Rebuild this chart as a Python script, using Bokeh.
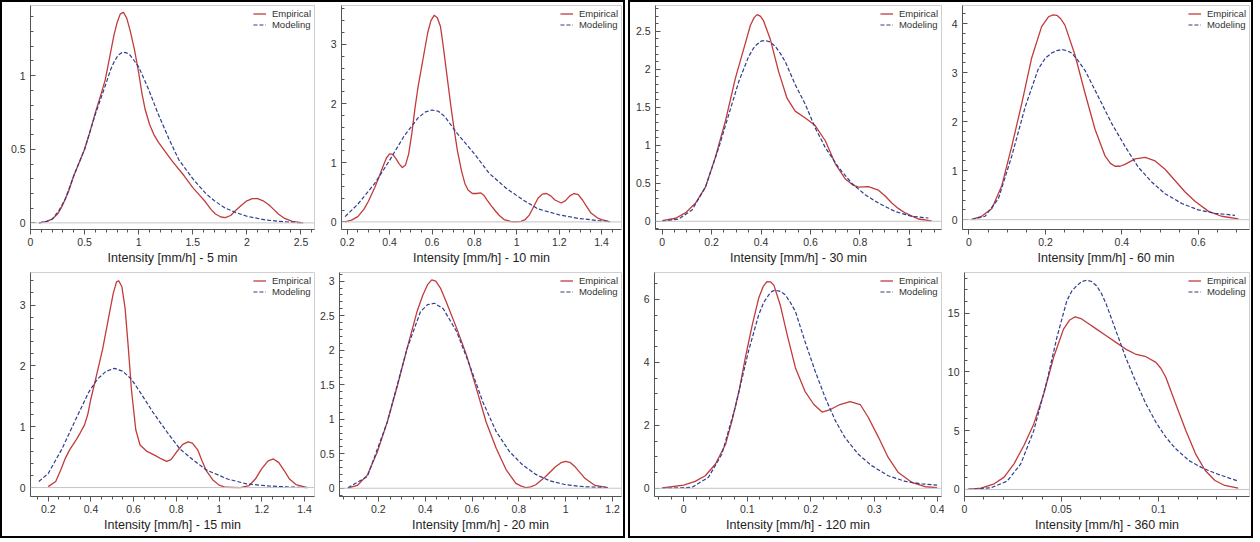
from bokeh.plotting import figure
from bokeh.layouts import row, column
from bokeh.models import FixedTicker, Span, CustomJSTickFormatter
from bokeh.embed import file_html
from bokeh.resources import INLINE
import numpy as np

# ---------------- data ----------------
titles = ["Intensity [mm/h] - 5 min", "Intensity [mm/h] - 10 min",
          "Intensity [mm/h] - 15 min", "Intensity [mm/h] - 20 min",
          "Intensity [mm/h] - 30 min", "Intensity [mm/h] - 60 min",
          "Intensity [mm/h] - 120 min", "Intensity [mm/h] - 360 min"]
series_names = ["Empirical", "Modeling"]

# 5 min
emp5_x = [0.08, 0.15, 0.2, 0.25, 0.29, 0.35, 0.4, 0.45, 0.5, 0.55, 0.6, 0.65, 0.69, 0.73, 0.77,
          0.8, 0.83, 0.86, 0.89, 0.92, 0.96, 1.0, 1.03, 1.06, 1.1, 1.14, 1.18, 1.22, 1.31, 1.42,
          1.5, 1.56, 1.62, 1.67, 1.71, 1.76, 1.8, 1.85, 1.89, 1.95, 2.0, 2.05, 2.1, 2.15, 2.2,
          2.25, 2.29, 2.35, 2.42, 2.52]
emp5_y = [0.0, 0.01, 0.025, 0.06, 0.11, 0.21, 0.32, 0.41, 0.5, 0.62, 0.75, 0.87, 0.97, 1.12,
          1.27, 1.36, 1.42, 1.43, 1.39, 1.31, 1.18, 1.02, 0.88, 0.77, 0.67, 0.6, 0.55, 0.51,
          0.42, 0.32, 0.24, 0.19, 0.14, 0.09, 0.06, 0.04, 0.035, 0.05, 0.08, 0.12, 0.15,
          0.165, 0.165, 0.15, 0.125, 0.09, 0.06, 0.03, 0.01, 0.0]
mod5_x = [0.08, 0.15, 0.2, 0.26, 0.32, 0.4, 0.5, 0.6, 0.69, 0.74, 0.77, 0.81, 0.85, 0.89, 0.92,
          0.96, 1.0, 1.09, 1.18, 1.28, 1.37, 1.5, 1.62, 1.7, 1.8, 1.9, 2.0, 2.17, 2.35, 2.52]
mod5_y = [0.0, 0.01, 0.025, 0.08, 0.16, 0.32, 0.5, 0.74, 0.93, 1.04, 1.09, 1.14, 1.16, 1.155,
          1.14, 1.1, 1.06, 0.91, 0.74, 0.57, 0.43, 0.3, 0.2, 0.15, 0.1, 0.07, 0.045, 0.02,
          0.007, 0.0]

# 10 min
emp10_x = [0.19, 0.22, 0.25, 0.28, 0.3, 0.33, 0.35, 0.37, 0.385, 0.4, 0.415, 0.43, 0.445, 0.46,
           0.475, 0.49, 0.505, 0.52, 0.535, 0.55, 0.565, 0.58, 0.595, 0.61, 0.625, 0.64, 0.65,
           0.66, 0.675, 0.69, 0.705, 0.72, 0.74, 0.755, 0.77, 0.79, 0.81, 0.83, 0.845, 0.86,
           0.88, 0.9, 0.92, 0.94, 0.97, 0.99, 1.02, 1.04, 1.06, 1.08, 1.1, 1.12, 1.14, 1.16,
           1.18, 1.21, 1.23, 1.25, 1.27, 1.29, 1.31, 1.33, 1.35, 1.38, 1.4, 1.44]
emp10_y = [0.0, 0.03, 0.09, 0.22, 0.35, 0.58, 0.76, 0.95, 1.08, 1.15, 1.14, 1.07, 0.98, 0.92,
           0.96, 1.15, 1.5, 1.93, 2.3, 2.6, 2.9, 3.2, 3.4, 3.49, 3.45, 3.3, 3.05, 2.77, 2.35,
           1.93, 1.55, 1.2, 0.85, 0.65, 0.54, 0.48, 0.48, 0.49, 0.45, 0.37, 0.27, 0.18, 0.1,
           0.04, 0.01, 0.0, 0.01, 0.04, 0.12, 0.26, 0.4, 0.47, 0.48, 0.44, 0.37, 0.32, 0.36,
           0.44, 0.48, 0.46, 0.37, 0.26, 0.15, 0.07, 0.04, 0.0]
mod10_x = [0.19, 0.25, 0.33, 0.4, 0.47, 0.535, 0.57, 0.6, 0.63, 0.66, 0.72, 0.8, 0.87, 0.95,
           1.03, 1.1, 1.2, 1.29, 1.39, 1.44]
mod10_y = [0.09, 0.3, 0.65, 1.04, 1.46, 1.76, 1.86, 1.89, 1.87, 1.78, 1.49, 1.15, 0.82, 0.57,
           0.37, 0.22, 0.12, 0.06, 0.02, 0.01]

# 15 min
emp15_x = [0.2, 0.235, 0.26, 0.28, 0.3, 0.33, 0.35, 0.37, 0.385, 0.4, 0.43, 0.455, 0.475, 0.49,
           0.505, 0.52, 0.53, 0.545, 0.56, 0.575, 0.59, 0.61, 0.63, 0.66, 0.7, 0.73, 0.755,
           0.775, 0.8, 0.83, 0.855, 0.875, 0.9, 0.92, 0.94, 0.97, 1.0, 1.03, 1.1, 1.14, 1.17,
           1.2, 1.23, 1.255, 1.28, 1.305, 1.33, 1.36, 1.4, 1.415]
emp15_y = [0.015, 0.1, 0.3, 0.48, 0.62, 0.78, 0.9, 1.03, 1.2, 1.46, 1.9, 2.28, 2.65, 2.93, 3.2,
           3.38, 3.4, 3.3, 2.95, 2.3, 1.6, 0.95, 0.7, 0.6, 0.53, 0.47, 0.43, 0.46, 0.58, 0.71,
           0.75, 0.73, 0.62, 0.44, 0.28, 0.13, 0.04, 0.005, 0.0, 0.03, 0.14, 0.31, 0.44, 0.47,
           0.41, 0.28, 0.14, 0.05, 0.01, 0.0]
mod15_x = [0.156, 0.2, 0.265, 0.33, 0.39, 0.43, 0.47, 0.51, 0.55, 0.59, 0.63, 0.69, 0.755,
           0.815, 0.88, 0.94, 1.04, 1.13, 1.23, 1.32, 1.415]
mod15_y = [0.1, 0.23, 0.64, 1.13, 1.57, 1.78, 1.91, 1.96, 1.91, 1.78, 1.57, 1.24, 0.92, 0.64,
           0.45, 0.29, 0.14, 0.06, 0.027, 0.01, 0.0]

# 20 min
emp20_x = [0.07, 0.11, 0.153, 0.196, 0.238, 0.28, 0.323, 0.365, 0.39, 0.41, 0.428, 0.445,
           0.465, 0.49, 0.534, 0.576, 0.618, 0.66, 0.703, 0.745, 0.787, 0.81, 0.83, 0.85,
           0.872, 0.914, 0.956, 0.98, 1.0, 1.02, 1.04, 1.083, 1.125, 1.18]
emp20_y = [0.0, 0.04, 0.19, 0.53, 0.96, 1.47, 2.03, 2.56, 2.8, 2.95, 3.02, 3.0, 2.9, 2.7, 2.32,
           1.93, 1.45, 0.96, 0.58, 0.27, 0.07, 0.03, 0.01, 0.02, 0.05, 0.17, 0.31, 0.37, 0.39,
           0.37, 0.31, 0.14, 0.04, 0.01]
mod20_x = [0.07, 0.153, 0.238, 0.323, 0.38, 0.41, 0.44, 0.477, 0.534, 0.59, 0.646, 0.703,
           0.76, 0.815, 0.872, 0.93, 1.0, 1.083, 1.18]
mod20_y = [0.005, 0.17, 0.96, 2.03, 2.56, 2.66, 2.68, 2.6, 2.27, 1.78, 1.25, 0.82, 0.53, 0.34,
           0.2, 0.11, 0.05, 0.02, 0.01]

# 30 min
emp30_x = [0.0, 0.054, 0.094, 0.135, 0.175, 0.215, 0.256, 0.296, 0.33, 0.357, 0.372, 0.384,
           0.397, 0.41, 0.437, 0.471, 0.505, 0.538, 0.579, 0.619, 0.66, 0.7, 0.74, 0.77, 0.794,
           0.834, 0.875, 0.9, 0.929, 0.955, 0.983, 1.036, 1.09]
emp30_y = [0.01, 0.04, 0.11, 0.24, 0.45, 0.84, 1.32, 1.88, 2.27, 2.58, 2.68, 2.72, 2.7, 2.64,
           2.4, 1.97, 1.62, 1.45, 1.36, 1.26, 1.06, 0.76, 0.56, 0.48, 0.45, 0.455, 0.41, 0.34,
           0.24, 0.17, 0.11, 0.03, 0.005]
mod30_x = [0.0, 0.067, 0.121, 0.175, 0.229, 0.27, 0.31, 0.35, 0.37, 0.384, 0.4, 0.417, 0.437,
           0.458, 0.478, 0.498, 0.538, 0.579, 0.619, 0.66, 0.713, 0.767, 0.821, 0.875, 0.942,
           1.009, 1.077]
mod30_y = [0.0, 0.03, 0.15, 0.45, 0.97, 1.41, 1.84, 2.17, 2.28, 2.33, 2.37, 2.38, 2.36, 2.3,
           2.21, 2.1, 1.8, 1.54, 1.23, 0.97, 0.71, 0.5, 0.35, 0.24, 0.13, 0.065, 0.043]

# 60 min
emp60_x = [0.007, 0.033, 0.06, 0.086, 0.112, 0.138, 0.164, 0.19, 0.208, 0.22, 0.23, 0.24,
           0.251, 0.277, 0.304, 0.33, 0.356, 0.37, 0.382, 0.395, 0.408, 0.435, 0.461, 0.487,
           0.513, 0.539, 0.565, 0.592, 0.627, 0.661, 0.705]
emp60_y = [0.005, 0.07, 0.23, 0.7, 1.5, 2.37, 3.3, 3.94, 4.14, 4.18, 4.17, 4.1, 3.97, 3.37,
           2.57, 1.84, 1.3, 1.15, 1.09, 1.09, 1.13, 1.24, 1.27, 1.2, 1.03, 0.8, 0.57, 0.37,
           0.17, 0.07, 0.015]
mod60_x = [0.007, 0.042, 0.077, 0.112, 0.147, 0.181, 0.2, 0.216, 0.23, 0.243, 0.256, 0.269,
           0.285, 0.304, 0.339, 0.373, 0.408, 0.443, 0.478, 0.513, 0.557, 0.6, 0.644, 0.696]
mod60_y = [0.0, 0.07, 0.43, 1.3, 2.3, 3.07, 3.3, 3.4, 3.45, 3.47, 3.45, 3.4, 3.25, 3.04, 2.5,
           1.97, 1.5, 1.07, 0.77, 0.53, 0.33, 0.2, 0.13, 0.09]

# 120 min
emp120_x = [-0.034, 0.0, 0.018, 0.034, 0.05, 0.066, 0.076, 0.087, 0.097, 0.108, 0.118, 0.125,
            0.131, 0.137, 0.142, 0.152, 0.163, 0.176, 0.191, 0.205, 0.218, 0.231, 0.246,
            0.262, 0.278, 0.291, 0.307, 0.322, 0.338, 0.359, 0.38, 0.399]
emp120_y = [0.01, 0.1, 0.22, 0.4, 0.77, 1.4, 2.14, 3.08, 4.14, 5.19, 6.03, 6.4, 6.56, 6.55,
            6.45, 5.82, 4.87, 3.82, 3.08, 2.66, 2.42, 2.5, 2.66, 2.75, 2.66, 2.24, 1.61, 0.98,
            0.5, 0.19, 0.05, 0.02]
mod120_x = [-0.034, 0.013, 0.039, 0.06, 0.081, 0.102, 0.118, 0.126, 0.134, 0.139, 0.144,
            0.152, 0.16, 0.168, 0.176, 0.191, 0.207, 0.223, 0.239, 0.254, 0.275, 0.296, 0.322,
            0.349, 0.375, 0.399]
mod120_y = [0.0, 0.03, 0.35, 1.08, 2.56, 4.35, 5.5, 5.9, 6.14, 6.25, 6.29, 6.25, 6.14, 5.9,
            5.61, 4.66, 3.72, 2.87, 2.14, 1.61, 1.08, 0.72, 0.4, 0.22, 0.14, 0.1]

# 360 min
emp360_x = [0.0017, 0.0085, 0.0153, 0.0204, 0.0255, 0.0306, 0.0357, 0.0408, 0.0459, 0.051,
            0.054, 0.057, 0.06, 0.063, 0.068, 0.073, 0.078, 0.083, 0.088, 0.0935, 0.0986,
            0.1012, 0.1037, 0.1088, 0.114, 0.119, 0.124, 0.129, 0.134, 0.141]
emp360_y = [0.0, 0.11, 0.48, 1.05, 2.18, 3.74, 5.58, 8.13, 11.25, 13.65, 14.4, 14.7, 14.55,
            14.22, 13.65, 13.09, 12.52, 11.95, 11.53, 11.3, 10.82, 10.3, 9.55, 7.28, 5.01,
            3.03, 1.61, 0.76, 0.34, 0.11]
mod360_x = [0.0017, 0.0136, 0.022, 0.029, 0.0357, 0.0425, 0.0476, 0.0527, 0.0553, 0.0578,
            0.0604, 0.063, 0.0655, 0.068, 0.0705, 0.073, 0.078, 0.083, 0.088, 0.0935, 0.0986,
            0.1037, 0.1088, 0.1156, 0.1224, 0.129, 0.136, 0.141]
mod360_y = [0.0, 0.14, 0.71, 2.18, 5.01, 9.26, 12.95, 16.06, 16.9, 17.34, 17.7, 17.82, 17.7,
            17.34, 16.7, 15.78, 13.51, 11.25, 9.26, 7.28, 5.72, 4.45, 3.46, 2.46, 1.84, 1.39,
            0.99, 0.71]

# axis ticks
xticks = [[0, 0.5, 1, 1.5, 2, 2.5], [0.2, 0.4, 0.6, 0.8, 1, 1.2, 1.4],
          [0.2, 0.4, 0.6, 0.8, 1, 1.2, 1.4], [0.2, 0.4, 0.6, 0.8, 1, 1.2],
          [0, 0.2, 0.4, 0.6, 0.8, 1], [0, 0.2, 0.4, 0.6],
          [0, 0.1, 0.2, 0.3, 0.4], [0, 0.05, 0.1]]
yticks = [[0, 0.5, 1], [0, 1, 2, 3], [0, 1, 2, 3], [0, 0.5, 1, 1.5, 2, 2.5, 3],
          [0, 0.5, 1, 1.5, 2, 2.5], [0, 1, 2, 3, 4], [0, 2, 4, 6], [0, 5, 10, 15]]

# ---------------- styling / layout ----------------
EMP_COLOR = "#c23b3b"
MOD_COLOR = "#2f3d8f"
FONT = "Liberation Sans"

xminor_step = [0.1, 0.05, 0.05, 0.05, 0.05, 0.05, 0.02, 0.01]
yminor_step = [0.1, 0.2, 0.2, 0.1, 0.1, 0.2, 0.5, 1.0]
xranges = [(0, 2.625), (0.173, 1.494), (0.117, 1.447), (0.034, 1.238),
           (-0.027, 1.13), (-0.017, 0.734), (-0.046, 0.406), (0.0, 0.1468)]
yranges = [(-0.045, 1.477), (-0.128, 3.656), (-0.147, 3.535), (-0.12, 3.126),
           (-0.108, 2.84), (-0.2, 4.37), (-0.26, 6.85), (-0.6, 18.47)]
widths = [314, 307, 314, 307, 314, 307, 314, 307]
borders_left = [28, 25, 28, 20, 25, 18, 24, 17]
borders_right = [2, 2, 2, 2, 3, 2, 3, 2]

curves = [(emp5_x, emp5_y, mod5_x, mod5_y), (emp10_x, emp10_y, mod10_x, mod10_y),
          (emp15_x, emp15_y, mod15_x, mod15_y), (emp20_x, emp20_y, mod20_x, mod20_y),
          (emp30_x, emp30_y, mod30_x, mod30_y), (emp60_x, emp60_y, mod60_x, mod60_y),
          (emp120_x, emp120_y, mod120_x, mod120_y), (emp360_x, emp360_y, mod360_x, mod360_y)]

fmt = CustomJSTickFormatter(code="return String(Number(tick.toFixed(6)));")


def minor(lo, hi, step):
    n0 = int(np.floor(lo / step)) - 1
    n1 = int(np.ceil(hi / step)) + 1
    return [round(k * step, 6) for k in range(n0, n1 + 1)]


def make(i):
    ex, ey, mx, my = curves[i]
    p = figure(width=widths[i], height=267, x_range=xranges[i], y_range=yranges[i],
               output_backend="svg", toolbar_location=None,
               min_border_left=borders_left[i], min_border_right=borders_right[i],
               min_border_top=3, min_border_bottom=40)
    p.xgrid.visible = False
    p.ygrid.visible = False
    p.outline_line_color = "#cfcfcf"
    p.outline_line_width = 1
    p.background_fill_color = "white"
    p.border_fill_color = "white"

    p.add_layout(Span(location=0, dimension="width", line_color="#c4c4c4", line_width=1))

    p.line(ex, ey, line_color=EMP_COLOR, line_width=1.3, legend_label=series_names[0],
           line_join="round")
    p.line(mx, my, line_color=MOD_COLOR, line_width=1.2, line_dash="4 2",
           legend_label=series_names[1], line_join="round")

    xa = p.xaxis[0]
    xa.ticker = FixedTicker(ticks=xticks[i], minor_ticks=minor(*xranges[i], xminor_step[i]))
    xa.formatter = fmt
    xa.major_tick_in = 0
    xa.major_tick_out = 5
    xa.minor_tick_in = 0
    xa.minor_tick_out = 3
    xa.axis_label = titles[i]
    xa.axis_label_text_font = FONT
    xa.axis_label_text_font_size = "12.5px"
    xa.axis_label_text_font_style = "normal"
    xa.axis_label_text_color = "#1e1e1e"
    xa.axis_label_standoff = 2
    xa.major_label_standoff = 3

    ya = p.yaxis[0]
    ya.ticker = FixedTicker(ticks=yticks[i], minor_ticks=minor(*yranges[i], yminor_step[i]))
    ya.formatter = fmt
    ya.major_tick_in = 5
    ya.major_tick_out = 0
    ya.minor_tick_in = 3
    ya.minor_tick_out = 0
    ya.major_label_standoff = 5

    for ax in (xa, ya):
        ax.axis_line_color = "#555555"
        ax.major_tick_line_color = "#555555"
        ax.minor_tick_line_color = "#555555"
        ax.major_label_text_font = FONT
        ax.major_label_text_font_size = "10.5px"
        ax.major_label_text_color = "#333333"

    lg = p.legend[0]
    lg.location = "top_right"
    lg.background_fill_alpha = 0
    lg.border_line_alpha = 0
    lg.label_text_font = FONT
    lg.label_text_font_size = "9.5px"
    lg.label_text_color = "#333333"
    lg.label_height = 9
    lg.glyph_height = 9
    lg.glyph_width = 13
    lg.label_standoff = 6
    lg.spacing = 0
    lg.padding = 2
    lg.margin = 1
    return p


figs = [make(i) for i in range(8)]

panel_style = {"border": "2px solid black", "background-color": "white"}
left = column(row(figs[0], figs[1]), row(figs[2], figs[3]), styles=panel_style)
right = column(row(figs[4], figs[5]), row(figs[6], figs[7]), styles=panel_style)
page = row(left, right, spacing=3)

open("out.html", "w").write(file_html(page, INLINE, title="Intensity densities"))
